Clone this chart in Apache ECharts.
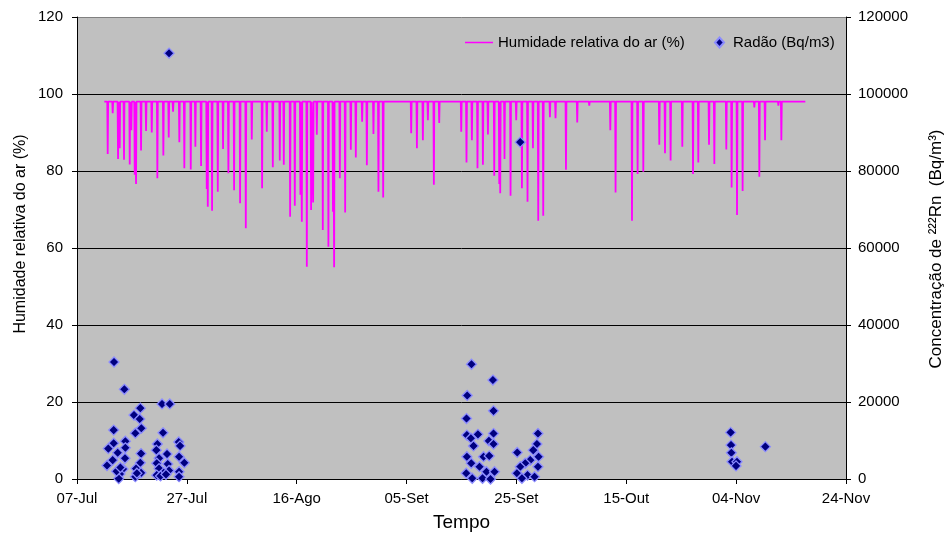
<!DOCTYPE html>
<html>
<head>
<meta charset="utf-8">
<script src="https://cdn.jsdelivr.net/npm/echarts@6/dist/echarts.min.js"></script>
<style>
  html, body { margin: 0; padding: 0; background: #fff; }
  #chart { width: 948px; height: 542px; }
</style>
</head>
<body>
<div id="chart"></div>
<script>
// x values are days counted from 07-Jul
const xTickLabels = ['07-Jul', '27-Jul', '16-Ago', '05-Set', '25-Set', '15-Out', '04-Nov', '24-Nov'];

// humidade relativa: patamar de 98 % com quedas diárias
const humBase = 98;
const humStart = 4.97;
const humEnd = 132.6;
const humDay = [5.59, 6.50, 7.47, 7.78, 8.56, 9.60, 9.89, 10.51, 10.75, 11.66, 12.57, 13.61, 14.63, 15.72, 16.70,
  17.49, 18.63, 19.54, 20.71, 21.55, 22.59, 23.62, 23.81, 24.59, 25.63, 26.59, 27.56, 28.60, 29.69, 30.73, 31.82,
  33.70, 34.55, 35.65, 36.92, 37.65, 38.80, 39.65, 40.67, 40.93, 41.84, 42.62, 42.99, 43.66, 44.75, 45.77, 46.60,
  46.81, 47.85, 48.82, 49.85, 50.76, 51.91, 52.77, 53.97, 54.88, 55.74, 60.84, 61.88, 62.97, 63.88, 64.97, 65.94,
  69.95, 70.91, 71.89, 72.91, 73.90, 74.81, 75.96, 76.87, 77.05, 77.83, 78.93, 79.96, 81.00, 82.02, 83.01, 83.97,
  84.88, 86.10, 87.12, 89.02, 91.07, 93.26, 97.09, 98.05, 101.04, 102.06, 103.10, 106.01, 107.05, 108.07, 110.20,
  112.15, 113.11, 115.06, 116.03, 118.21, 119.18, 120.16, 121.18, 123.31, 124.22, 125.26, 127.69, 128.23];
const humMin = [84.4, 95, 83.1, 85.9, 82.9, 81.7, 90.6, 79, 76.6, 85.3, 90.4, 90, 78.1, 84, 88.7,
  95.4, 87.5, 80.7, 80.4, 86.3, 81.3, 75.3, 70.7, 69.7, 74.6, 85.7, 79.4, 75, 71.6, 65.1, 88.2,
  75.5, 90.2, 81, 82.7, 81.6, 68.1, 71, 73.8, 66.8, 55.1, 69.9, 71.8, 89.4, 64.7, 60.3, 69.4,
  55, 78.1, 69.2, 85.5, 83.5, 92.8, 81.5, 89.6, 74.6, 73.1, 89.8, 85.9, 88, 93.2, 76.4, 92.5,
  90.2, 82.2, 88, 80.7, 81.6, 89.5, 78.8, 76.6, 74.2, 83.1, 73.6, 93.2, 75.5, 72, 85.9, 67.1,
  68.4, 94, 93.7, 80.3, 92.6, 97, 90.6, 74.4, 67.1, 79.2, 79.8, 86.8, 84.6, 82.7, 86.3,
  79.2, 82.2, 86.8, 81.8, 85.6, 75.7, 68.6, 74.8, 96.5, 78.5, 88, 97, 88];

// radão (Bq/m3)
const radDay = [6.74, 8.62, 11.53, 10.38, 11.42, 11.71, 10.62, 6.68, 15.48, 16.89, 15.66, 6.68, 5.70, 8.80, 7.41,
  6.50, 5.46, 8.74, 8.80, 8.38, 7.83, 7.60, 11.66, 11.53, 10.75, 11.66, 10.62, 14.63, 14.44, 16.39, 14.94, 14.52,
  16.52, 14.94, 16.76, 14.52, 15.79, 18.52, 18.76, 18.58, 19.54, 18.58, 18.58, 7.20, 7.90, 10.90, 15.20, 16.20, 16.76,
  71.82, 75.72, 71.04, 75.83, 70.91, 75.83, 72.99, 70.98, 71.71, 72.19, 74.99, 75.83, 70.98, 71.77, 70.86, 71.95,
  74.01, 75.05, 73.28, 74.55, 76.01, 73.83, 75.28, 80.15, 83.92, 83.73, 83.06, 84.03, 82.51, 81.60, 80.69, 83.92,
  80.09, 82.02, 83.30, 81.00, 80.69,
  119.00, 119.07, 119.13, 119.25, 120.16, 119.98, 125.32];
const radVal = [30400, 23300, 18400, 16600, 15600, 13200, 11900, 12700, 19500, 19500, 12000, 9300, 7900, 9800, 6800,
  4900, 3500, 5400, 8100, 2600, 1300, 100, 6600, 4200, 2700, 1600, 600, 9100, 7500, 6500, 5400, 4100,
  3900, 2700, 2200, 1000, 1600, 9600, 8600, 5800, 4200, 1900, 600, 2000, 3000, 1500, 800, 1200, 110600,
  29800, 25700, 21700, 17700, 15700, 11800, 11600, 11400, 10600, 8600, 9900, 9100, 5800, 4100, 1500, 200,
  5800, 6000, 3200, 1900, 1900, 200, 0, 6900, 11800, 9100, 7500, 5800, 4900, 4100, 3200, 3200,
  1500, 1000, 600, 200, 87500,
  12100, 8800, 6800, 4500, 4500, 3400, 8400];

const humData = [[humStart, humBase]];
humDay.forEach(function (d, i) {
  humData.push([d - 0.08, humBase], [d, humMin[i]], [d + 0.08, humBase]);
});
humData.push([humEnd, humBase]);
const radData = radDay.map(function (d, i) { return [d, radVal[i]]; });

const FONT = 'Arial, "Liberation Sans", sans-serif';
const chart = echarts.init(document.getElementById('chart'));
chart.setOption({
  animation: false,
  backgroundColor: '#fff',
  textStyle: { fontFamily: FONT, color: '#000' },
  grid: {
    left: 77, right: 102, top: 17, bottom: 63,
    containLabel: false,
    show: true, backgroundColor: '#C0C0C0', borderWidth: 0
  },
  legend: [
    {
      data: ['Humidade relativa do ar (%)'],
      left: 460, top: 30,
      icon: 'rect', itemWidth: 28, itemHeight: 1.5,
      itemStyle: { color: '#FF00FF' },
      textStyle: { fontFamily: FONT, fontSize: 15, color: '#000' }
    },
    {
      data: ['Radão (Bq/m3)'],
      left: 709, top: 30,
      icon: 'diamond', itemWidth: 9, itemHeight: 10,
      textStyle: { fontFamily: FONT, fontSize: 15, color: '#000', padding: [0, 0, 0, 4] }
    }
  ],
  xAxis: {
    type: 'value',
    min: 0, max: 140, interval: 20,
    name: 'Tempo', nameLocation: 'middle', nameGap: 34,
    nameTextStyle: { fontFamily: FONT, fontSize: 19, color: '#000' },
    axisLine: { show: true, lineStyle: { color: '#000', width: 1 } },
    axisTick: { show: true, inside: false, length: 5, lineStyle: { color: '#000' } },
    axisLabel: {
      fontFamily: FONT, fontSize: 15, color: '#000', margin: 12,
      formatter: function (v) { return xTickLabels[Math.round(v / 20)]; }
    },
    splitLine: { show: false }
  },
  yAxis: [
    {
      type: 'value', min: 0, max: 120, interval: 20,
      axisLine: { show: true, lineStyle: { color: '#000', width: 1 } },
      axisTick: { show: true, inside: false, length: 5, lineStyle: { color: '#000' } },
      axisLabel: { fontFamily: FONT, fontSize: 15, color: '#000', margin: 14 },
      splitLine: {
        show: true,
        lineStyle: { color: ['#000', '#000', '#000', '#000', '#000', '#000', '#808080'], width: 1 }
      }
    },
    {
      type: 'value', min: 0, max: 120000, interval: 20000, position: 'right',
      axisLine: { show: true, lineStyle: { color: '#000', width: 1 } },
      axisTick: { show: true, inside: false, length: 5, lineStyle: { color: '#000' } },
      axisLabel: {
        fontFamily: FONT, fontSize: 15, color: '#000', margin: 12,
        formatter: function (v) { return String(v); }
      },
      splitLine: { show: false }
    }
  ],
  graphic: [
    {
      type: 'text', x: 21, y: 234, rotation: Math.PI / 2,
      style: { text: 'Humidade relativa do ar (%)', font: '16px ' + FONT, fill: '#000', align: 'center', verticalAlign: 'middle' }
    },
    {
      type: 'text', x: 936, y: 249, rotation: Math.PI / 2,
      style: { text: 'Concentração de ²²²Rn  (Bq/m³)', font: '17px ' + FONT, fill: '#000', align: 'center', verticalAlign: 'middle' }
    }
  ],
  series: [
    {
      name: 'Humidade relativa do ar (%)',
      type: 'line',
      xAxisIndex: 0, yAxisIndex: 0,
      data: humData,
      symbol: 'none', showSymbol: false,
      lineStyle: { color: '#FF00FF', width: 1.8 },
      itemStyle: { color: '#FF00FF' },
      z: 2
    },
    {
      name: 'Radão (Bq/m3)',
      type: 'scatter',
      xAxisIndex: 0, yAxisIndex: 1,
      data: radData,
      symbol: 'diamond', symbolSize: 10,
      itemStyle: { color: '#000080', borderColor: '#8C8CFF', borderWidth: 1.3, opacity: 1 },
      z: 3
    }
  ]
});
</script>
</body>
</html>
